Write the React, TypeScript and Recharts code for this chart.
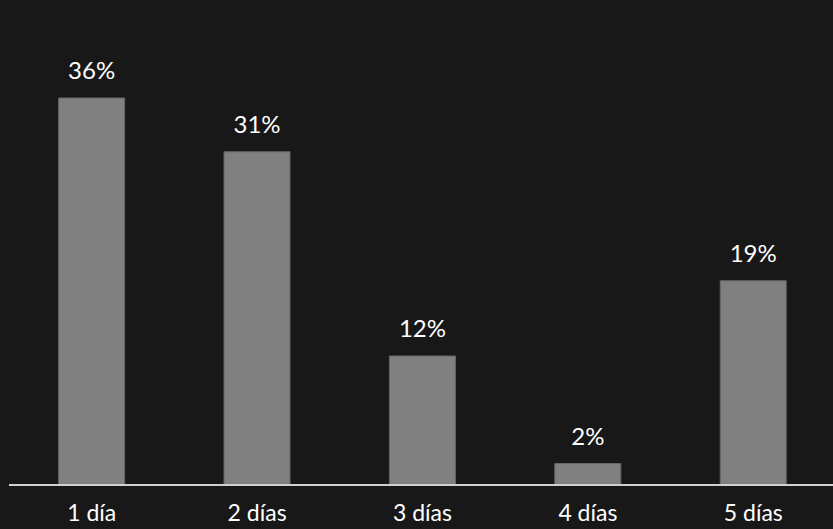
import { Bar, BarChart, LabelList, XAxis, YAxis } from "recharts";

const categories = ["1 día", "2 días", "3 días", "4 días", "5 días"];
const shares = [36, 31, 12, 2, 19];

const data = categories.map((name, i) => ({ name, share: shares[i] }));

export default function App() {
  return (
    <div
      style={{
        position: "fixed",
        top: 0,
        left: 0,
        width: 833,
        height: 529,
        overflow: "hidden",
        background: "#181818",
        fontFamily: "Lato, sans-serif",
      }}
    >
      <BarChart
        width={840}
        height={529}
        data={data}
        margin={{ top: 55, right: 4, bottom: 0, left: 9 }}
        barCategoryGap="30%"
      >
        <YAxis hide domain={[0, 40]} />
        <XAxis
          dataKey="name"
          height={44}
          tickLine={false}
          axisLine={{ stroke: "#d0d0d0", strokeWidth: 2 }}
          tick={{ fill: "#ffffff", fontSize: 23 }}
          tickMargin={14}
        />
        <Bar
          dataKey="share"
          fill="#808080"
          stroke="#666666"
          strokeWidth={1}
          isAnimationActive={false}
        >
          <LabelList
            dataKey="share"
            position="top"
            offset={19}
            formatter={(v: number) => `${v}%`}
            fill="#ffffff"
            fontSize={24}
          />
        </Bar>
      </BarChart>
    </div>
  );
}
